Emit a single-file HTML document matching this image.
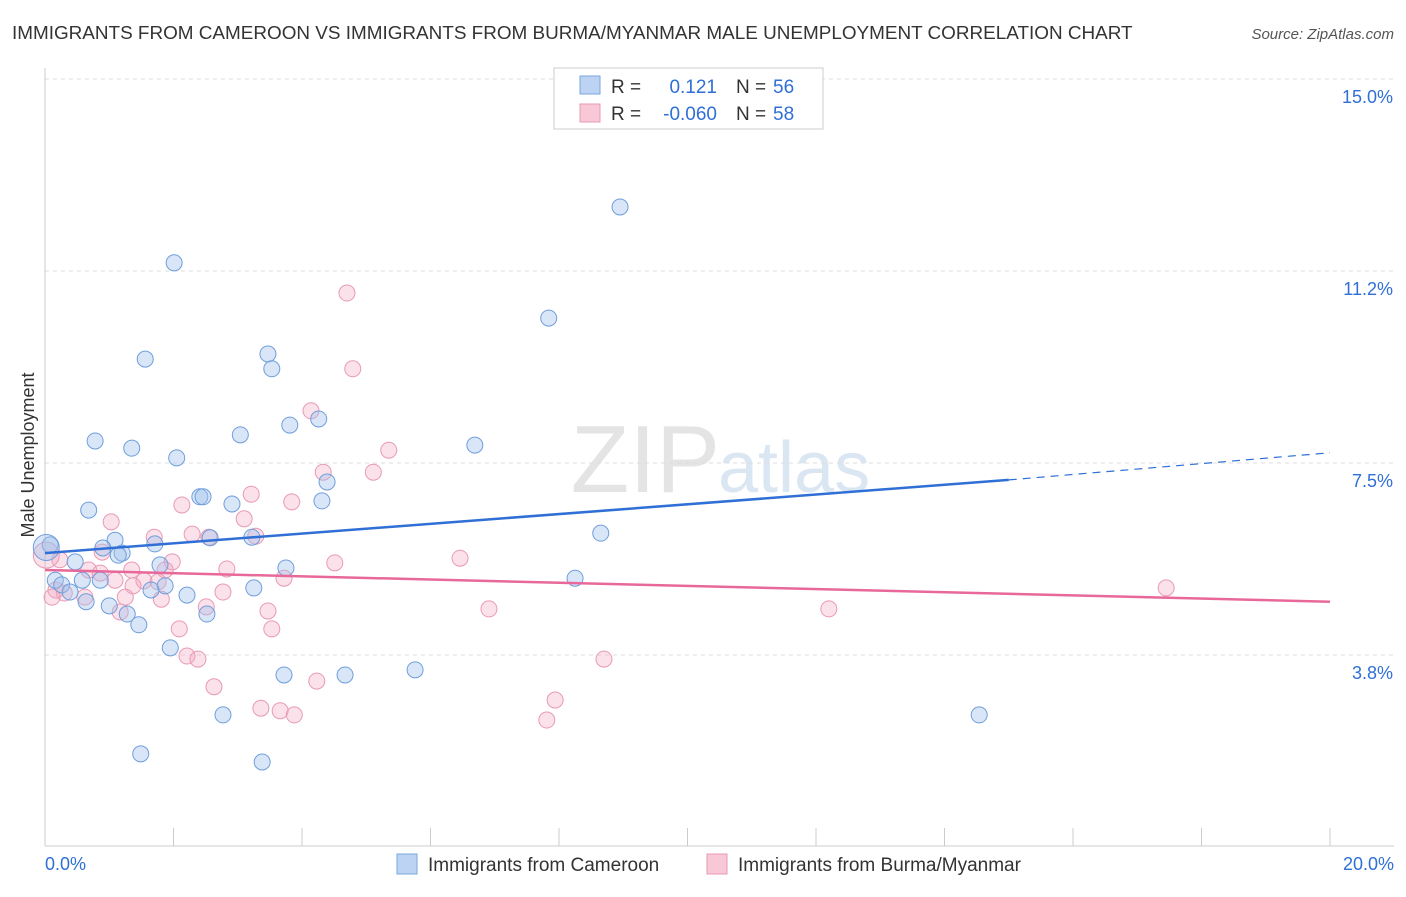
<!DOCTYPE html>
<html><head><meta charset="utf-8"><style>
body{margin:0;background:#fff;font-family:"Liberation Sans",sans-serif;}
svg text{font-family:"Liberation Sans",sans-serif;}
</style></head><body>
<svg id="chart" width="1406" height="892" xmlns="http://www.w3.org/2000/svg">
<text x="12" y="39" font-size="18.9" fill="#333">IMMIGRANTS FROM CAMEROON VS IMMIGRANTS FROM BURMA/MYANMAR MALE UNEMPLOYMENT CORRELATION CHART</text>
<text x="1394" y="39" font-size="15" fill="#555" text-anchor="end" font-style="italic">Source: ZipAtlas.com</text>
<text x="720" y="492" font-size="96" fill="#e4e4e4" text-anchor="end" font-family="Liberation Serif">ZIP</text>
<text x="718" y="492" font-size="72" fill="#dbe6f3">atlas</text>
<text transform="translate(34,455) rotate(-90)" font-size="18" fill="#333" text-anchor="middle">Male Unemployment</text>
<g id="grid"></g><g id="marks"></g>
<g>
<rect x="554" y="68" width="269" height="61" fill="#fff" stroke="#ccc"/>
<rect x="580" y="76" width="20" height="18" fill="#bcd3f3" stroke="#7aa7e0"/>
<rect x="580" y="104" width="20" height="18" fill="#f8c8d7" stroke="#e99ab5"/>
<text x="611" y="93" font-size="19" fill="#333">R =</text><text x="717" y="93" font-size="19" fill="#2f6fd6" text-anchor="end">0.121</text>
<text x="736" y="93" font-size="19" fill="#333">N =</text><text x="773" y="93" font-size="19" fill="#2f6fd6">56</text>
<text x="611" y="120" font-size="19" fill="#333">R =</text><text x="717" y="120" font-size="19" fill="#2f6fd6" text-anchor="end">-0.060</text>
<text x="736" y="120" font-size="19" fill="#333">N =</text><text x="773" y="120" font-size="19" fill="#2f6fd6">58</text>
</g>
<g>
<rect x="397" y="854" width="20" height="20" fill="#bcd3f3" stroke="#7aa7e0"/>
<text x="428" y="871" font-size="19" fill="#333">Immigrants from Cameroon</text>
<rect x="707" y="854" width="20" height="20" fill="#f8c8d7" stroke="#e99ab5"/>
<text x="738" y="871" font-size="19" fill="#333">Immigrants from Burma/Myanmar</text>
</g>
</svg>
<script>
const yTicks=[3.75,7.5,11.25,15];
const yTickLabels=["3.8%","7.5%","11.2%","15.0%"];
const xTicks=[0,2,4,6,8,10,12,14,16,18,20];
const blueX=[8.95,2.01,7.84,1.56,3.47,3.53,0.78,1.35,2.05,3.04,3.81,4.26,6.69,4.39,2.41,2.46,2.91,4.31,0.68,2.57,3.22,1.71,1.09,0.90,1.20,1.14,8.65,0.08,0.47,1.79,3.75,0.16,0.26,0.58,0.86,1.87,1.65,0.39,2.21,1.00,0.64,1.28,2.52,3.25,8.25,1.46,1.95,3.72,4.67,5.76,2.77,14.54,1.49,3.38,0.02];
const blueY=[12.5,11.41,10.33,9.53,9.63,9.34,7.93,7.79,7.60,8.05,8.24,8.36,7.85,7.13,6.84,6.84,6.70,6.76,6.58,6.04,6.05,5.92,5.99,5.84,5.74,5.70,6.13,5.90,5.57,5.51,5.45,5.21,5.12,5.21,5.21,5.10,5.02,4.98,4.92,4.71,4.79,4.55,4.55,5.06,5.25,4.34,3.89,3.36,3.36,3.46,2.58,2.58,1.82,1.66,5.85];
const pinkX=[4.70,4.79,4.14,5.35,4.33,5.11,3.21,2.13,3.84,1.03,3.10,1.70,2.29,2.55,3.28,0.89,0.23,1.98,0.68,1.35,1.87,0.86,2.83,4.51,6.46,3.72,1.54,1.76,1.09,1.37,0.17,0.30,0.62,0.11,1.25,2.77,1.81,2.51,3.47,6.91,12.20,17.45,1.17,2.09,3.53,2.21,2.38,8.70,2.63,4.23,7.94,3.36,3.66,3.88,7.81,0.02];
const pinkY=[10.82,9.34,8.52,7.75,7.32,7.32,6.89,6.68,6.74,6.35,6.41,6.05,6.11,6.05,6.07,5.76,5.61,5.57,5.41,5.41,5.41,5.35,5.43,5.55,5.64,5.25,5.20,5.18,5.21,5.10,5.02,4.96,4.88,4.88,4.88,4.98,4.84,4.69,4.61,4.65,4.65,5.06,4.59,4.26,4.26,3.73,3.67,3.67,3.13,3.24,2.87,2.71,2.66,2.58,2.48,5.70];
const blueTrendX=[0,15,20], blueTrendY=[5.74,7.17,7.70];
const pinkTrendX=[0,20], pinkTrendY=[5.41,4.79];
const sx=v=>45+v*64.25, sy=v=>79+(15-v)*51.2;
const NS="http://www.w3.org/2000/svg";
function mk(t,a,p){const e=document.createElementNS(NS,t);for(const k in a)e.setAttribute(k,a[k]);p.appendChild(e);return e;}
const g=document.getElementById('grid'),m=document.getElementById('marks');
yTicks.forEach((v,i)=>{
 const l=mk('line',{x1:45,x2:1394,y1:sy(v),y2:sy(v),stroke:'#ddd','stroke-dasharray':'4,4'},g);
 
 
 const t=mk('text',{x:1393,y:sy(v)+24,'font-size':18,fill:'#2f6fd6','text-anchor':'end'},g);t.textContent=yTickLabels[i];
 
 
});
const ax=mk('line',{x1:45,x2:45,y1:68,y2:846,stroke:'#ccc'},g);


const bx=mk('line',{x1:45,x2:1394,y1:846,y2:846,stroke:'#ccc'},g);


xTicks.forEach(v=>{const l=mk('line',{x1:sx(v),x2:sx(v),y1:828,y2:846,stroke:'#ccc'},g);
 
 });
let t0=mk('text',{x:45,y:870,'font-size':18,fill:'#2f6fd6'},g);t0.textContent='0.0%';


let t1=mk('text',{x:1394,y:870,'font-size':18,fill:'#2f6fd6','text-anchor':'end'},g);t1.textContent='20.0%';


function pts(X,Y,fill,stroke,name){X.forEach((x,i)=>{const big=i===X.length-1;
 const c=mk('circle',{cx:sx(x),cy:sy(Y[i]),r:big?13:8,fill:fill,stroke:stroke,'stroke-width':1},m);
 
 });}
pts(pinkX,pinkY,'rgba(242,170,196,0.35)','#e99ab5','point-burma');
pts(blueX,blueY,'rgba(160,192,236,0.4)','#6f9edc','point-cameroon');
const bl=mk('line',{x1:sx(blueTrendX[0]),y1:sy(blueTrendY[0]),x2:sx(blueTrendX[1]),y2:sy(blueTrendY[1]),stroke:'#2f6fd6','stroke-width':2.5},m);


const bd=mk('line',{x1:sx(blueTrendX[1]),y1:sy(blueTrendY[1]),x2:sx(blueTrendX[2]),y2:sy(blueTrendY[2]),stroke:'#2f6fd6','stroke-width':1.2,'stroke-dasharray':'8,6'},m);


const pl=mk('line',{x1:sx(pinkTrendX[0]),y1:sy(pinkTrendY[0]),x2:sx(pinkTrendX[1]),y2:sy(pinkTrendY[1]),stroke:'#e8689a','stroke-width':2.5},m);


</script>
</body></html>
